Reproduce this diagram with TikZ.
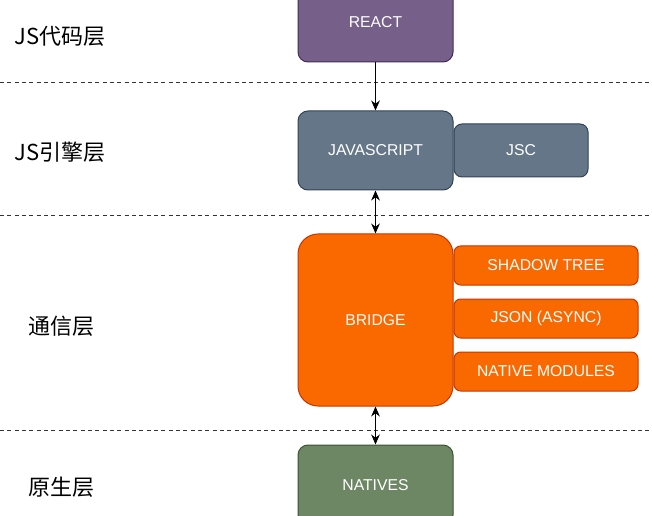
\documentclass[tikz,border=0pt]{standalone}
\usepackage{fontspec}
\setmainfont{Liberation Sans}
\newfontfamily\cjk{Noto Sans CJK SC}
\usetikzlibrary{arrows.meta}
\definecolor{reactfill}{HTML}{76608A}
\definecolor{reactline}{HTML}{432D57}
\definecolor{jsfill}{HTML}{647687}
\definecolor{jsline}{HTML}{314354}
\definecolor{brfill}{HTML}{FA6800}
\definecolor{brline}{HTML}{C73500}
\definecolor{natfill}{HTML}{6D8764}
\definecolor{natline}{HTML}{3A5431}
\definecolor{sepline}{HTML}{333333}
\begin{document}
\begin{tikzpicture}[x=0.75pt,y=-0.75pt,
  box/.style={rectangle, inner sep=0pt, line width=0.75pt, text=white,
    font=\fontsize{11.8}{14}\selectfont},
  bigbox/.style={box, minimum width=116.25pt, rounded corners=7.5pt},
  sidebox/.style={box, minimum width=138pt, minimum height=29.25pt, rounded corners=5pt,
    fill=brfill, draw=brline},
  layer/.style={font=\cjk\fontsize{16.5}{19}\selectfont, text=black, inner sep=0pt},
  sep/.style={draw=sepline, line width=0.75pt, dash pattern=on 3pt off 2.5pt},
  link/.style={draw=black, line width=0.75pt}]
\useasboundingbox (0,0) rectangle (652,516);
\clip (0,0) rectangle (652,516);
\fill[white] (0,0) rectangle (652,516);

% separators
\coordinate (s1a) at (0,83);   \coordinate (s1b) at (652,83);
\coordinate (s2a) at (0,216);  \coordinate (s2b) at (652,216);
\coordinate (s3a) at (0,430);  \coordinate (s3b) at (652,430);
\draw[sep] (s1a) -- (s1b);
\draw[sep] (s2a) -- (s2b);
\draw[sep] (s3a) -- (s3b);

% layer labels
\node[layer] (l1) at (60,36) {JS代码层};
\node[layer] (l2) at (60,152) {JS引擎层};
\node[layer] (l3) at (61,326) {通信层};
\node[layer] (l4) at (61,487) {原生层};

% boxes
\node[bigbox, minimum height=60pt, fill=reactfill, draw=reactline] (react) at (375.5,22) {REACT};
\node[bigbox, minimum height=59.25pt, fill=jsfill, draw=jsline] (js) at (375.5,150.5) {JAVASCRIPT};
\node[box, minimum width=100.5pt, minimum height=39.75pt, rounded corners=6pt, fill=jsfill, draw=jsline] (jsc) at (521,150.5) {JSC};
\node[bigbox, minimum height=129pt, rounded corners=15pt, fill=brfill, draw=brline] (bridge) at (375.5,320) {BRIDGE};
\node[sidebox] (shadow) at (546,265.5) {SHADOW TREE};
\node[sidebox] (json) at (546,318.5) {JSON (ASYNC)};
\node[sidebox] (nmod) at (546,371.5) {NATIVE MODULES};
\node[bigbox, minimum height=60pt, fill=natfill, draw=natline] (natives) at (375.5,485) {NATIVES};

% connectors
\draw[link, -{Stealth[length=7.5pt,width=6.5pt]}] (react.south) -- (js.north);
\draw[link, {Stealth[length=7.5pt,width=6.5pt]}-{Stealth[length=7.5pt,width=6.5pt]}] (js.south) -- (bridge.north);
\draw[link, {Stealth[length=7.5pt,width=6.5pt]}-{Stealth[length=7.5pt,width=6.5pt]}] (bridge.south) -- (natives.north);
\end{tikzpicture}
\end{document}
